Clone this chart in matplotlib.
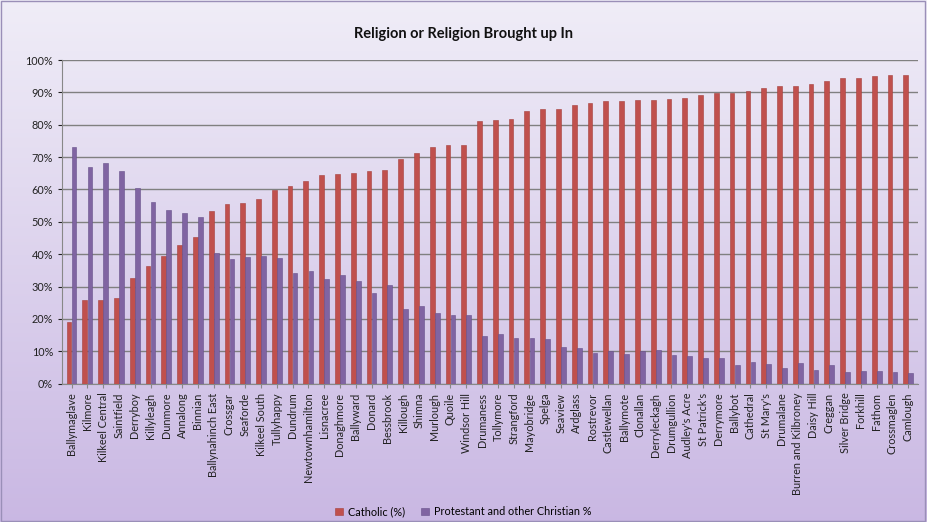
import matplotlib.pyplot as plt
import numpy as np
from matplotlib.ticker import PercentFormatter

plt.rcParams['font.family'] = ['Lato', 'DejaVu Sans']

# ==============================================================================
# DATA
# ==============================================================================
wards = [
    'Ballymaglave', 'Kilmore', 'Kilkeel Central', 'Saintfield', 'Derryboy',
    'Killyleagh', 'Dunmore', 'Annalong', 'Binnian', 'Ballynahinch East',
    'Crossgar', 'Seaforde', 'Kilkeel South', 'Tullyhappy', 'Dundrum',
    'Newtownhamilton', 'Lisnacree', 'Donaghmore', 'Ballyward', 'Donard',
    'Bessbrook', 'Killough', 'Shimna', 'Murlough', 'Quoile', 'Windsor Hill',
    'Drumaness', 'Tollymore', 'Strangford', 'Mayobridge', 'Spelga', 'Seaview',
    'Ardglass', 'Rostrevor', 'Castlewellan', 'Ballymote', 'Clonallan',
    'Derryleckagh', 'Drumgullion', "Audley's Acre", "St Patrick's", 'Derrymore',
    'Ballybot', 'Cathedral', "St Mary's", 'Drumalane', 'Burren and Kilbroney',
    'Daisy Hill', 'Creggan', 'Silver Bridge', 'Forkhill', 'Fathom',
    'Crossmaglen', 'Camlough'
]

catholic = [
    19.0, 25.7, 25.7, 26.4, 32.7, 36.3, 39.3, 43.0, 45.2, 53.3,
    55.5, 55.8, 57.2, 59.8, 61.1, 62.5, 64.5, 64.7, 65.2, 65.8,
    66.1, 69.3, 71.3, 73.2, 73.8, 73.8, 81.2, 81.5, 81.8, 84.2,
    85.0, 85.0, 86.2, 86.7, 87.2, 87.2, 87.5, 87.5, 88.0, 88.2,
    89.2, 89.7, 89.9, 90.4, 91.3, 92.0, 92.0, 92.7, 93.5, 94.5,
    94.6, 95.0, 95.4, 95.4
]

protestant = [
    73.2, 67.1, 68.2, 65.6, 60.6, 56.1, 53.6, 52.7, 51.5, 40.3,
    38.5, 39.2, 39.6, 38.8, 34.1, 34.8, 32.4, 33.5, 31.7, 28.0,
    30.6, 23.1, 24.1, 21.7, 21.3, 21.2, 14.6, 15.4, 14.0, 14.0,
    13.9, 11.4, 11.0, 9.6, 10.2, 9.3, 10.0, 10.3, 8.9, 8.7,
    8.0, 8.0, 5.8, 6.7, 6.1, 4.9, 6.3, 4.1, 5.7, 3.5,
    4.0, 4.0, 3.7, 3.3
]

# ==============================================================================
# PLOT
# ==============================================================================
fig = plt.figure(figsize=(9.27, 5.22), dpi=100)

# lavender gradient background
bg = fig.add_axes([0, 0, 1, 1], zorder=-10)
grad = np.linspace(0, 1, 256).reshape(-1, 1)
top = np.array([0.94, 0.93, 0.97])
bottom = np.array([0.79, 0.72, 0.89])
img = top + (bottom - top) * grad[:, :, None]
bg.imshow(img, aspect='auto', extent=[0, 1, 0, 1])
bg.set_axis_off()
bg.add_patch(plt.Rectangle((0.001, 0.002), 0.997, 0.996, fill=False,
                           edgecolor='#9a8fb8', linewidth=1, transform=bg.transAxes))

ax = fig.add_axes([0.067, 0.265, 0.923, 0.62])
ax.set_facecolor('none')

x = np.arange(len(wards))
w = 0.3
ax.bar(x - w / 2 - 0.01, catholic, width=w, color='#c0504d', edgecolor='#a53f3c',
       linewidth=0.4, label='Catholic (%)', zorder=3)
ax.bar(x + w / 2 + 0.01, protestant, width=w, color='#8064a2', edgecolor='#66508a',
       linewidth=0.4, label='Protestant and other Christian %', zorder=3)

ax.set_ylim(0, 100)
ax.set_xlim(-0.6, len(wards) - 0.4)
ax.set_yticks(np.arange(0, 101, 10))
ax.yaxis.set_major_formatter(PercentFormatter(decimals=0))
ax.grid(axis='y', color='#808080', linewidth=1.0, zorder=0)
ax.set_axisbelow(True)

ax.set_xticks(x)
ax.set_xticklabels(wards, rotation=90, fontsize=7.8, color='#222222')
ax.tick_params(axis='y', labelsize=7.8, length=3, colors='#222222')
ax.tick_params(axis='x', length=3, color='#888888')
for s in ['top', 'right']:
    ax.spines[s].set_visible(False)
ax.spines['left'].set_color('#888888')
ax.spines['bottom'].set_color('#888888')

fig.text(0.5, 0.928, 'Religion or Religion Brought up In', ha='center',
         fontsize=10.5, fontweight='bold', color='#111111')

fig.legend(loc='lower center', bbox_to_anchor=(0.5, -0.01), ncol=2, frameon=False,
           fontsize=7.8, handlelength=0.7, handleheight=0.7, columnspacing=1.5,
           handletextpad=0.5)

plt.savefig('out.png', dpi=100)
